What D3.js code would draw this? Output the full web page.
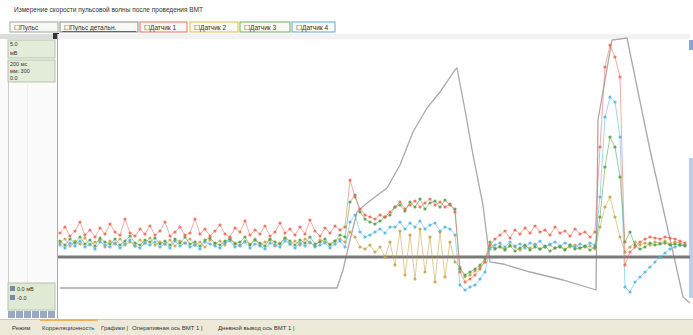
<!DOCTYPE html>
<html>
<head>
  <meta charset="utf-8">
  <title>Измерение скорости пульсовой волны</title>
  <script src="https://d3js.org/d3.v7.min.js"></script>
  <style>
    body { margin: 0; background: #fff; }
    text { font-family: "Liberation Sans", sans-serif; fill: #333; }
  </style>
</head>
<body>
  <svg width="693" height="335"></svg>
  <script>
    // Sensor series, one value per sample (sample step is constant)
    const sensor1 = [24,30,21,26,35,22,27,20,29,23,33,25,22,38,24,21,28,23,31,22,26,35,21,25,30,22,24,38,23,28,21,26,32,23,20,29,25,36,22,27,23,31,21,25,34,24,28,22,30,23,37,26,21,29,24,31,27,
      30,77,60,48,42,40,38,42,40,45,50,55,48,52,56,50,54,58,52,55,50,53,45,-15,-25,-22,-18,-12,-5,12,
      18,22,26,19,27,23,29,24,31,25,27,22,30,24,26,21,28,23,25,20,
      25,110,190,212,200,180,-8,5,10,15,18,20,19,18,20,19,18,16,14];
    const sensor2 = [14,18,11,16,13,19,12,15,17,10,16,13,18,12,15,11,17,14,19,12,15,13,17,11,16,14,18,12,15,10,17,13,16,12,19,14,11,16,13,18,12,15,17,11,14,19,13,16,12,18,14,11,17,15,13,16,18,
      15,25,20,10,8,12,5,10,0,15,-8,26,-18,22,-22,28,-15,20,-25,25,-20,15,-5,-10,-20,-18,-14,-10,-5,10,
      9,11,8,12,10,7,11,9,13,8,10,12,9,11,8,10,12,9,10,11,
      8,30,50,60,40,20,5,10,15,12,14,12,15,14,16,13,15,14,12];
    const sensor3 = [16,12,18,14,20,13,17,11,19,15,13,18,12,16,21,14,12,17,15,19,13,16,12,18,14,20,13,15,11,17,19,14,12,16,18,13,15,20,12,17,14,11,18,15,13,19,16,12,17,14,20,13,15,18,12,16,22,
      20,55,62,45,38,35,33,36,40,42,50,52,46,55,50,58,48,54,56,50,57,52,48,-12,-18,-15,-12,-8,-2,15,
      8,10,7,11,6,9,12,7,10,8,11,6,9,10,7,12,8,9,11,7,
      10,40,90,120,110,80,15,25,12,8,10,14,12,13,14,12,13,12,11];
    const sensor4 = [12,9,14,11,16,10,13,8,15,12,10,14,9,13,17,11,9,14,12,15,10,13,9,16,11,14,10,12,8,15,13,11,9,14,16,10,12,15,9,13,11,8,14,12,10,16,13,9,14,11,15,10,12,14,9,13,16,
      10,35,42,25,20,22,25,28,24,30,30,35,28,34,30,36,28,32,34,26,30,28,22,-28,-33,-30,-28,-22,-15,8,
      12,14,10,15,11,13,9,14,12,16,10,13,15,11,14,12,10,13,11,14,
      12,60,140,160,155,120,-30,-35,-25,-20,-15,-10,-5,0,4,8,10,12,12];

    // Pulse curve (sample position, value)
    const pulseT = [0,55.4,56.6,58,59.4,61.4,65.4,68,70.6,73.4,76,79,79.4,81,82.6,84.6,86,88.6,94,100.6,107.2,107.6,110.4,113.4,118,124.6,126];
    const pulseV = [-31,-31,-13,17,45,54,69,92,125,149,165,187,189,147,102,52,-5,-7,-15,-23,-33,137,217,219,107,-40,-46];

    const legendLabels = ["Пульс", "Пульс детальн.", "Датчик 1", "Датчик 2", "Датчик 3", "Датчик 4"];
    const legendColors = ["#9aa89a", "#8a8a8a", "#e8705a", "#d8c050", "#6ab060", "#60a8d8"];
    const tabLabels = ["Режим", "Корреляционность", "Графики", "Оперативная ось ВМТ 1", "Дневной вывод ось ВМТ 1"];

    const svg = d3.select("svg");
    const N = sensor1.length;
    const x = d3.scaleLinear().domain([0, N - 1]).range([60, 685]);
    const y = d3.scaleLinear().domain([-61, 219]).range([318, 38]).clamp(true);

    // title
    svg.append("text").attr("x", 14).attr("y", 12).attr("font-size", 6.5)
      .text("Измерение скорости пульсовой волны после проведения ВМТ");

    // legend buttons
    const legX = [10, 60, 140, 190, 240, 292];
    const legW = [48, 78, 47, 48, 50, 43];
    legendLabels.forEach((l, i) => {
      svg.append("rect").attr("x", legX[i]).attr("y", 22).attr("width", legW[i]).attr("height", 10)
        .attr("fill", "#f8f8f4").attr("stroke", legendColors[i]).attr("stroke-width", 1);
      svg.append("text").attr("x", legX[i] + 4).attr("y", 30).attr("font-size", 6.5)
        .attr("fill", i == 1 ? "#444" : legendColors[i]).text("☐" + l);
    });
    svg.append("line").attr("x1", 62).attr("x2", 136).attr("y1", 31.5).attr("y2", 31.5).attr("stroke", "#666");

    // left panel
    svg.append("rect").attr("x", 0).attr("y", 34).attr("width", 57).attr("height", 285).attr("fill", "#fbfbfb");
    svg.append("rect").attr("x", 0).attr("y", 34).attr("width", 57).attr("height", 5).attr("fill", "#dcdcdc");
    svg.append("rect").attr("x", 53).attr("y", 33).attr("width", 6).attr("height", 6).attr("fill", "#333");
    svg.append("rect").attr("x", 8).attr("y", 40).attr("width", 47).attr("height", 18)
      .attr("fill", "#e2ecd8").attr("stroke", "#b8c4b0");
    svg.append("rect").attr("x", 8).attr("y", 60).attr("width", 47).attr("height", 22)
      .attr("fill", "#e2ecd8").attr("stroke", "#b8c4b0");
    [["5.0", 46], ["мВ", 55], ["200 мс", 66], ["мм: 300", 73], ["0.0", 80]].forEach(t => {
      svg.append("text").attr("x", 10).attr("y", t[1]).attr("font-size", 5.5).text(t[0]);
    });
    svg.append("line").attr("x1", 8.5).attr("x2", 8.5).attr("y1", 82).attr("y2", 283).attr("stroke", "#ccc");
    svg.append("line").attr("x1", 27.5).attr("x2", 27.5).attr("y1", 82).attr("y2", 283).attr("stroke", "#eee");
    svg.append("line").attr("x1", 57.5).attr("x2", 57.5).attr("y1", 34).attr("y2", 319).attr("stroke", "#aaa");
    svg.append("rect").attr("x", 8).attr("y", 283).attr("width", 47).attr("height", 27)
      .attr("fill", "#dfe9d4").attr("stroke", "#b8c4b0");
    [["0.0 мВ", 291], ["-0.0", 300]].forEach(t => {
      svg.append("rect").attr("x", 10).attr("y", t[1] - 5).attr("width", 5).attr("height", 5).attr("fill", "#7a8aa8");
      svg.append("text").attr("x", 17).attr("y", t[1]).attr("font-size", 5.5).text(t[0]);
    });
    d3.range(6).forEach(i => {
      svg.append("rect").attr("x", 8 + i * 8).attr("y", 311).attr("width", 7).attr("height", 7).attr("fill", "#9aa8c0");
    });

    // plot top band and right strip
    svg.append("rect").attr("x", 58).attr("y", 34).attr("width", 632).attr("height", 5).attr("fill", "#f2f2f2");
    svg.append("rect").attr("x", 689).attr("y", 40).attr("width", 4).attr("height", 10).attr("fill", "#7fa8d8");
    svg.append("rect").attr("x", 689).attr("y", 158).attr("width", 4).attr("height", 140).attr("fill", "#b8d0ec");

    // pulse curve
    const pulse = pulseT.map((t, i) => [t, pulseV[i]]);
    svg.append("path").datum(pulse)
      .attr("d", d3.line().x(d => x(d[0])).y(d => y(d[1])))
      .attr("fill", "none").attr("stroke", "#b0a6a6").attr("stroke-width", 1.3);

    // zero line
    svg.append("line").attr("x1", 58).attr("x2", 690).attr("y1", y(0)).attr("y2", y(0))
      .attr("stroke", "#7a7a7a").attr("stroke-width", 3);

    // sensor series
    const series = [
      { v: sensor2, c: "#c8a040" },
      { v: sensor4, c: "#4cb4e4" },
      { v: sensor3, c: "#4e9e44" },
      { v: sensor1, c: "#ee6450" }
    ];
    const line = d3.line().x((d, i) => x(i)).y(d => y(d));
    series.forEach(s => {
      svg.append("path").datum(s.v).attr("d", line)
        .attr("fill", "none").attr("stroke", s.c).attr("stroke-width", 0.9).attr("opacity", 0.6);
      svg.append("g").selectAll("circle").data(s.v).join("circle")
        .attr("cx", (d, i) => x(i)).attr("cy", d => y(d)).attr("r", 1.6)
        .attr("fill", s.c).attr("opacity", 0.85);
    });

    // bottom status bar
    svg.append("rect").attr("x", 0).attr("y", 319).attr("width", 693).attr("height", 16).attr("fill", "#ece9d8");
    svg.append("line").attr("x1", 0).attr("x2", 693).attr("y1", 319.5).attr("y2", 319.5).attr("stroke", "#d0c8b0");
    svg.append("line").attr("x1", 40).attr("x2", 98).attr("y1", 320).attr("y2", 320).attr("stroke", "#f0b060").attr("stroke-width", 2);
    const tabX = [12, 42, 101, 132, 218];
    tabLabels.forEach((t, i) => {
      svg.append("text").attr("x", tabX[i]).attr("y", 330).attr("font-size", 6).text(t + (i > 1 ? " |" : ""));
    });
  </script>
</body>
</html>
